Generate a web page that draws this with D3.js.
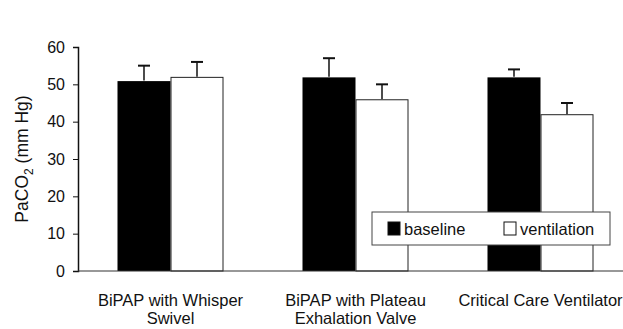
<!DOCTYPE html>
<html>
<head>
<meta charset="utf-8">
<script src="https://cdn.jsdelivr.net/npm/d3@7"></script>
<style>
  body { margin: 0; background: #fff; overflow: hidden; }
  svg text { font-family: "Liberation Sans", Arial, sans-serif; fill: #111; }
</style>
</head>
<body>
<div id="chart"></div>
<script>
// chart data
const categories = [["BiPAP with Whisper", "Swivel"], ["BiPAP with Plateau", "Exhalation Valve"], ["Critical Care Ventilator"]];
const seriesNames = ["baseline", "ventilation"];
const baseline = [51, 52, 52];
const baselineErr = [4, 5, 2];
const ventilation = [52, 46, 42];
const ventilationErr = [4, 4, 3];
const yTicks = [0, 10, 20, 30, 40, 50, 60];

const width = 623, height = 329;
const margin = { top: 47, left: 78, bottom: 58 };
const plotBottom = height - margin.bottom;

const svg = d3.select('#chart').append('svg')
  .attr('width', width)
  .attr('height', height);

const keys = categories.map((d, i) => i);

// scales
const x = d3.scaleBand()
  .domain(keys)
  .range([margin.left, margin.left + 555])
  .paddingInner(0.427)
  .paddingOuter(0.2135);
const xSub = d3.scaleBand().domain(seriesNames).range([0, x.bandwidth()]);
const y = d3.scaleLinear().domain([0, 60]).range([plotBottom, margin.top]);

const rows = keys.map(i => [
  { key: "baseline", cat: i, v: baseline[i], e: baselineErr[i] },
  { key: "ventilation", cat: i, v: ventilation[i], e: ventilationErr[i] }
]).flat();

// error bars (upward only)
const err = svg.append('g').attr('class', 'errors');
rows.forEach(d => {
  const cx = x(d.cat) + xSub(d.key) + xSub.bandwidth() / 2;
  err.append('line')
    .attr('x1', cx).attr('x2', cx)
    .attr('y1', y(d.v)).attr('y2', y(d.v + d.e))
    .attr('stroke', '#111').attr('stroke-width', 1.5);
  err.append('line')
    .attr('x1', cx - 6).attr('x2', cx + 6)
    .attr('y1', y(d.v + d.e)).attr('y2', y(d.v + d.e))
    .attr('stroke', '#111').attr('stroke-width', 2);
});

// bars
svg.append('g').attr('class', 'bars')
  .selectAll('rect')
  .data(rows)
  .enter()
  .append('rect')
  .attr('x', d => x(d.cat) + xSub(d.key) + (d.key === 'ventilation' ? 0.5 : 0))
  .attr('y', d => y(d.v) + 0.5)
  .attr('width', d => xSub.bandwidth() - (d.key === 'ventilation' ? 1 : 0))
  .attr('height', d => y(0) - y(d.v) - 0.5)
  .style('fill', d => d.key === 'baseline' ? '#000' : '#fff')
  .style('stroke', d => d.key === 'baseline' ? 'none' : '#222')
  .style('stroke-width', 1);

// y axis
const yAxis = svg.append('g')
  .attr('class', 'axis axis-y')
  .attr('transform', `translate(${margin.left}, 0)`)
  .call(d3.axisLeft(y).tickValues(yTicks).tickSize(5).tickPadding(8));
yAxis.select('.domain').attr('stroke', '#111').attr('stroke-width', 1.5);
yAxis.selectAll('.tick line').attr('stroke', '#111');
yAxis.selectAll('.tick text').style('font-size', '16px');

// x axis baseline
svg.append('line')
  .attr('x1', margin.left).attr('x2', width)
  .attr('y1', y(0)).attr('y2', y(0))
  .attr('stroke', '#333').attr('stroke-width', 1.2);

// category labels
const labels = svg.append('g').attr('class', 'xlabels');
categories.forEach((lines, i) => {
  const t = labels.append('text')
    .attr('text-anchor', 'middle')
    .attr('x', x(i) + x.bandwidth() / 2)
    .attr('y', plotBottom + 35)
    .style('font-size', '16.5px');
  lines.forEach((s, j) => {
    t.append('tspan')
      .attr('x', x(i) + x.bandwidth() / 2)
      .attr('dy', j === 0 ? 0 : 18)
      .text(s);
  });
});

// y label
const yl = svg.append('text')
  .attr('text-anchor', 'middle')
  .attr('transform', `translate(28, ${(plotBottom + margin.top) / 2}) rotate(-90)`)
  .style('font-size', '17.5px');
yl.append('tspan').text('PaCO');
yl.append('tspan').attr('dy', 5).style('font-size', '12px').text('2');
yl.append('tspan').attr('dy', -5).text(' (mm Hg)');

// legend
const lg = svg.append('g').attr('class', 'legend').attr('transform', 'translate(372, 212)');
lg.append('rect')
  .attr('width', 238).attr('height', 33)
  .attr('fill', '#fff').attr('stroke', '#444').attr('stroke-width', 1);
const legendX = [16, 132];
seriesNames.forEach((s, i) => {
  lg.append('rect')
    .attr('x', legendX[i]).attr('y', 10)
    .attr('width', 12).attr('height', 13)
    .attr('fill', i === 0 ? '#000' : '#fff')
    .attr('stroke', '#111').attr('stroke-width', 1);
  lg.append('text')
    .attr('x', legendX[i] + 16).attr('y', 23)
    .style('font-size', '16.5px')
    .text(s);
});
</script>
</body>
</html>
